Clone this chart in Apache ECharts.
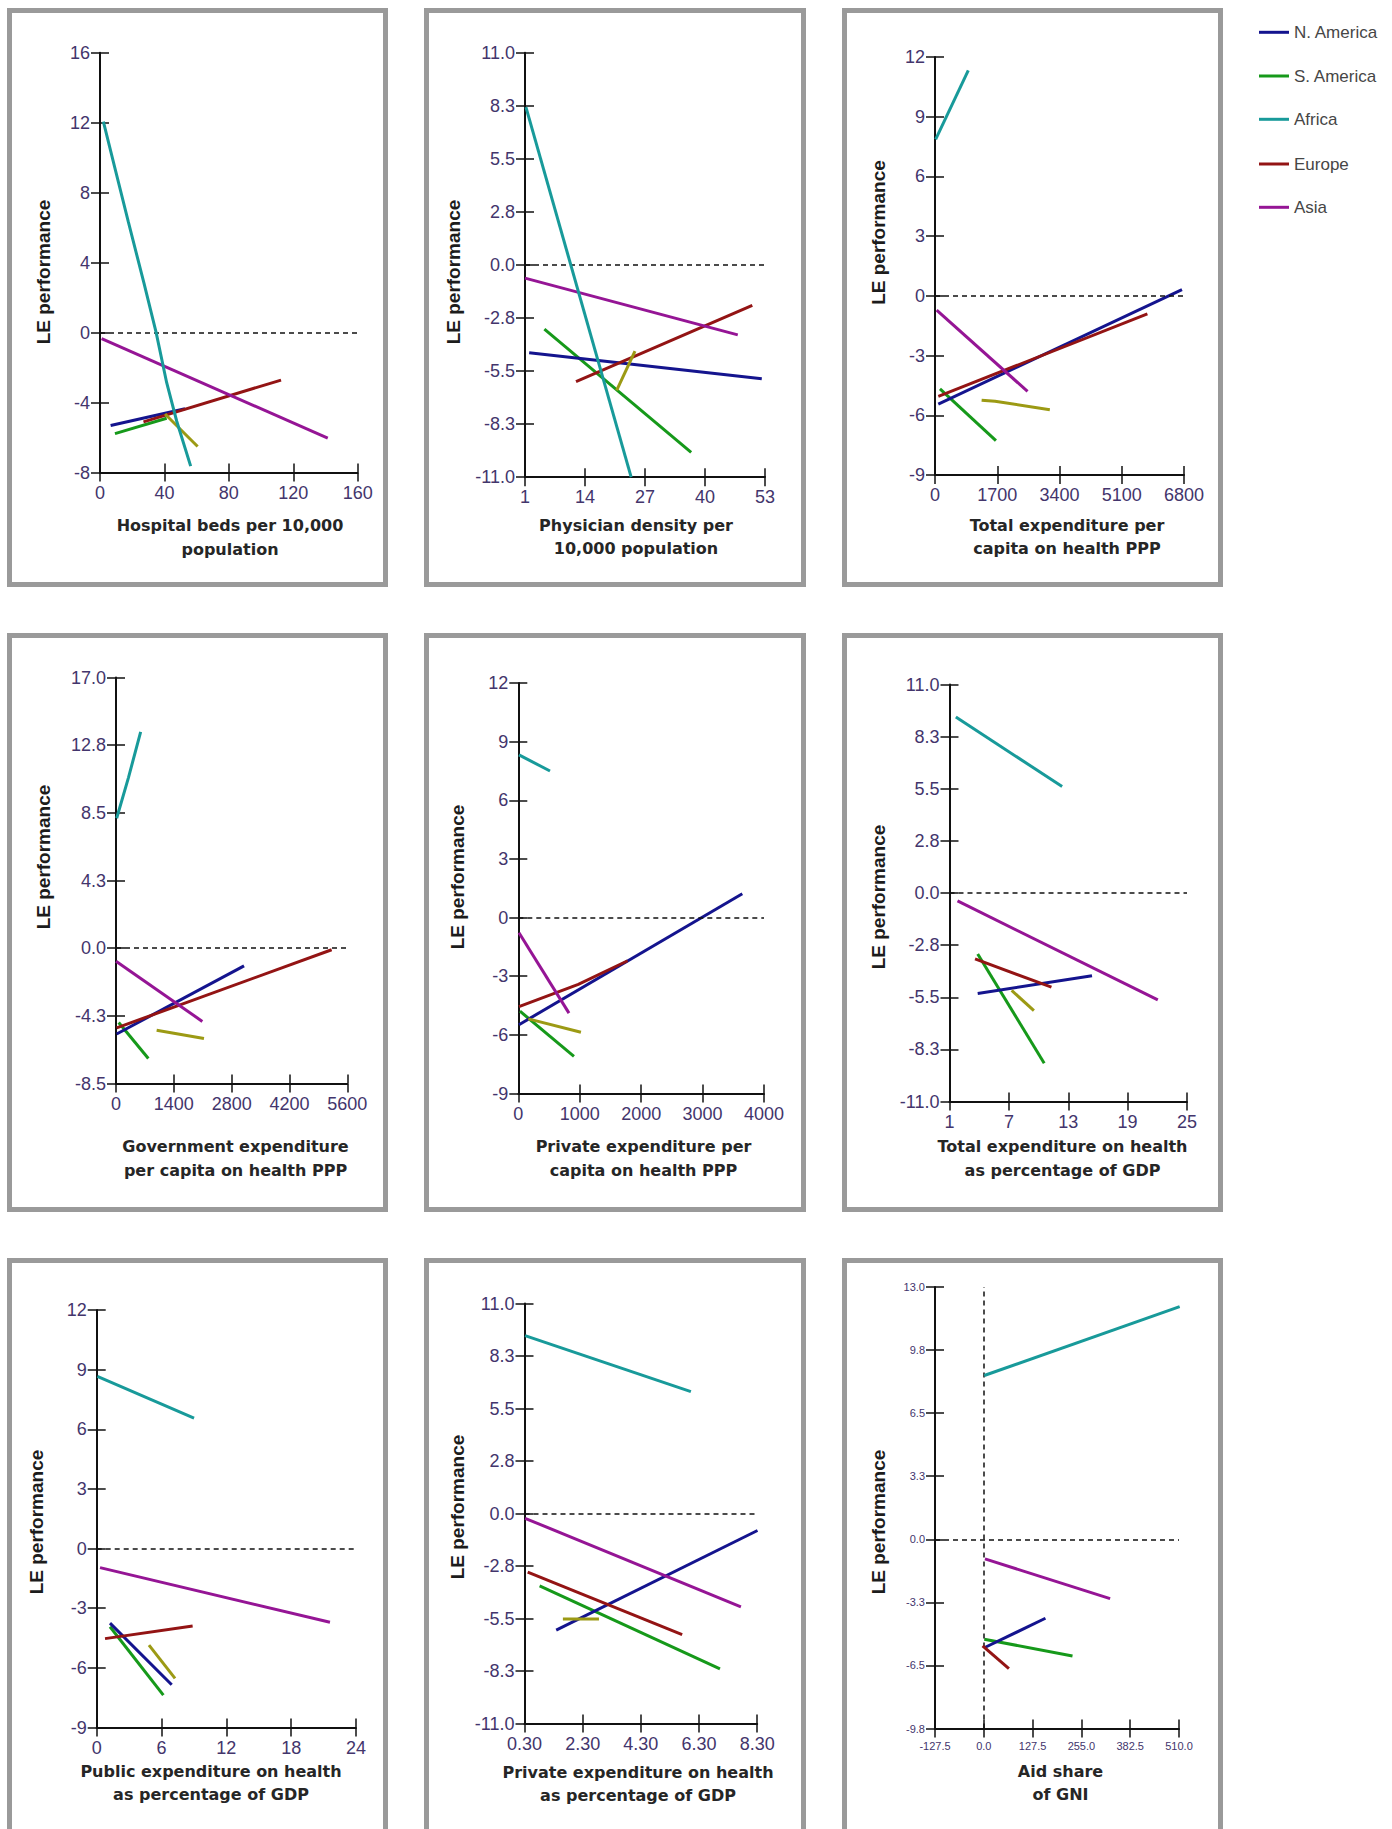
<!DOCTYPE html>
<html>
<head>
<meta charset="utf-8">
<script src="https://cdn.jsdelivr.net/npm/echarts@6/dist/echarts.min.js"></script>
<style>
html,body{margin:0;padding:0;background:#ffffff;}
#chart{width:1392px;height:1829px;}
</style>
</head>
<body>
<div id="chart"></div>
<script>
// ---------------- DATA ----------------
const regions = ['N. America', 'S. America', 'Africa', 'Europe', 'Asia'];
const otherName = 'Other';
const yTitle = 'LE performance';
const xTitles = [
  ['Hospital beds per 10,000', 'population'],
  ['Physician density per', '10,000 population'],
  ['Total expenditure per', 'capita on health PPP'],
  ['Government expenditure', 'per capita on health PPP'],
  ['Private expenditure per', 'capita on health PPP'],
  ['Total expenditure on health', 'as percentage of GDP'],
  ['Public expenditure on health', 'as percentage of GDP'],
  ['Private expenditure on health', 'as percentage of GDP'],
  ['Aid share', 'of GNI']
];
const xTicks = [
  [0, 40, 80, 120, 160],
  [1, 14, 27, 40, 53],
  [0, 1700, 3400, 5100, 6800],
  [0, 1400, 2800, 4200, 5600],
  [0, 1000, 2000, 3000, 4000],
  [1, 7, 13, 19, 25],
  [0, 6, 12, 18, 24],
  [0.3, 2.3, 4.3, 6.3, 8.3],
  [-127.5, 0, 127.5, 255, 382.5, 510]
];
const yTicks = [
  [-8, -4, 0, 4, 8, 12, 16],
  [-11, -8.25, -5.5, -2.75, 0, 2.75, 5.5, 8.25, 11],
  [-9, -6, -3, 0, 3, 6, 9, 12],
  [-8.5, -4.25, 0, 4.25, 8.5, 12.75, 17],
  [-9, -6, -3, 0, 3, 6, 9, 12],
  [-11, -8.25, -5.5, -2.75, 0, 2.75, 5.5, 8.25, 11],
  [-9, -6, -3, 0, 3, 6, 9, 12],
  [-11, -8.25, -5.5, -2.75, 0, 2.75, 5.5, 8.25, 11],
  [-9.75, -6.5, -3.25, 0, 3.25, 6.5, 9.75, 13]
];
const xDecimals = [0, 0, 0, 0, 0, 0, 0, 2, 1];
const yDecimals = [0, 1, 0, 1, 0, 1, 0, 1, 1];
const verticalZeroLine = [false, false, false, false, false, false, false, false, true];

// one segment (list of [x, y] points) per panel
const nAmerica = [
  [[6.6, -5.31], [52.8, -4.35]],
  [[1.9, -4.55], [52.3, -5.90]],
  [[90, -5.44], [6745, 0.31]],
  [[16, -5.39], [3100, -1.11]],
  [[11, -5.48], [3647, 1.22]],
  [[3.85, -5.30], [15.4, -4.37]],
  [[1.23, -3.75], [6.94, -6.85]],
  [[1.39, -6.11], [8.31, -0.89]],
  [[1.2, -5.59], [161, -4.07]]
];
const sAmerica = [
  [[9.3, -5.77], [41.4, -4.89]],
  [[5.2, -3.32], [37.0, -9.71]],
  [[136, -4.67], [1664, -7.27]],
  [[65, -4.67], [783, -6.93]],
  [[27, -4.79], [906, -7.10]],
  [[3.85, -3.22], [10.57, -8.98]],
  [[1.23, -3.93], [6.17, -7.37]],
  [[0.82, -3.79], [7.02, -8.14]],
  [[1.2, -5.15], [231.7, -6.01]]
];
const africa = [
  [[2.1, 12.06], [9.3, 9.39], [17.6, 6.33], [27.3, 2.83], [34.8, 0.03], [41.4, -2.86], [47.6, -5.05], [56.3, -7.63]],
  [[1.2, 8.18], [24.0, -11.0]],
  [[18, 7.86], [909, 11.33]],
  [[16, 8.16], [300, 10.7], [597, 13.58]],
  [[11, 8.32], [516, 7.50]],
  [[1.64, 9.28], [12.38, 5.62]],
  [[0.06, 8.66], [9.01, 6.56]],
  [[0.32, 9.32], [6.02, 6.38]],
  [[1.2, 8.44], [511.7, 11.99]]
];
const europe = [
  [[27, -5.1], [112.4, -2.71]],
  [[12.05, -6.04], [50.25, -2.09]],
  [[91, -5.05], [5800, -0.91]],
  [[16, -5.01], [5221, -0.10]],
  [[11, -4.56], [977, -3.42], [1780, -2.21]],
  [[3.58, -3.48], [11.30, -4.97]],
  [[0.77, -4.53], [8.88, -3.89]],
  [[0.41, -3.07], [5.72, -6.34]],
  [[-3.1, -5.49], [65.6, -6.67]]
];
const asia = [
  [[1.0, -0.34], [141.4, -6.03]],
  [[1.0, -0.68], [47.1, -3.62]],
  [[45, -0.72], [2527, -4.80]],
  [[0, -0.82], [2090, -4.60]],
  [[11, -0.78], [825, -4.89]],
  [[1.81, -0.42], [22.05, -5.64]],
  [[0.31, -0.96], [21.59, -3.71]],
  [[0.32, -0.25], [7.74, -4.89]],
  [[2.96, -1.01], [330, -3.06]]
];
const other = [
  [[40.4, -4.65], [60.6, -6.51]],
  [[20.86, -6.50], [24.83, -4.47]],
  [[1273, -5.24], [1640, -5.30], [3136, -5.72]],
  [[984, -5.15], [2130, -5.68]],
  [[163, -5.18], [1020, -5.87]],
  [[7.28, -5.14], [9.53, -6.21]],
  [[4.84, -4.86], [7.25, -6.53]],
  [[1.62, -5.53], [2.86, -5.53]],
  null
];

// ---------------- LAYOUT / STYLE ----------------
const gridBoxes = [ // [left, top, right, bottom]
  [100, 52.8, 357.7, 472.6],
  [525, 52.8, 765, 477.2],
  [935, 57, 1184, 475],
  [116, 677.5, 347.3, 1083.5],
  [518.3, 683, 764, 1093.5],
  [949.5, 684.5, 1187, 1101.5],
  [96.7, 1310, 356, 1727.5],
  [524.5, 1303.5, 757.2, 1723.5],
  [935, 1287, 1179, 1728.5]
];
const frameCols = [[7, 388], [424, 806], [842, 1223]];
const frameRows = [[8, 587], [633, 1212], [1258, 1845]];
const yTitlePos = [[43, 272], [453, 272], [878, 232.5], [43, 857], [457.5, 877], [878, 897], [36, 1522], [457.5, 1507], [878, 1522]];
const xTitlePos = [[230, 525, 549], [636, 525, 548.5], [1067, 525, 548.5], [235.5, 1146, 1170], [643.5, 1146, 1170], [1062.5, 1146, 1170], [211, 1771, 1794], [638, 1772, 1795], [1060.5, 1771, 1794]];
const labelSize = [18, 18, 18, 18, 18, 18, 18, 18, 11];
const xLabelMargin = [11, 11, 11, 11, 11, 11, 11, 11, 12];
const colors = {
  'N. America': '#14148e',
  'S. America': '#16991a',
  'Africa': '#189a9a',
  'Europe': '#931414',
  'Asia': '#951595',
  'Other': '#9c9a14'
};
const drawOrder = [['S. America', sAmerica], ['N. America', nAmerica], ['Europe', europe], ['Asia', asia], [otherName, other], ['Africa', africa]];
const legendCenters = [32.3, 76, 119.3, 164, 207.3];
const labelColor = '#43356c';
const axisColor = '#111111';

// ---------------- BUILD ----------------
function r6(v) { return Math.round(v * 1e6) / 1e6; }

const grids = [], xAxes = [], yAxes = [], series = [], graphics = [];

for (let p = 0; p < 9; p++) {
  const b = gridBoxes[p];
  grids.push({ left: b[0], top: b[1], width: b[2] - b[0], height: b[3] - b[1], containLabel: false, outerBoundsMode: 'none' });

  const tx = xTicks[p];
  const xInt = r6(tx[1] - tx[0]);
  const xMin0 = tx[0], xMax0 = tx[tx.length - 1];
  const ratio = xMin0 / xInt;
  const xOff = Math.abs(ratio - Math.round(ratio)) > 1e-9 ? xMin0 : 0;
  const xMin = r6(xMin0 - xOff), xMax = r6(xMax0 - xOff);
  const xDec = xDecimals[p];

  const ty = yTicks[p];
  const yInt = r6(ty[1] - ty[0]);
  const yMin = ty[0], yMax = ty[ty.length - 1];
  const yDec = yDecimals[p];
  const fs = labelSize[p];

  const commonLabel = { color: labelColor, fontSize: fs, fontFamily: '"Liberation Sans", Arial, sans-serif', showMinLabel: true, showMaxLabel: true, hideOverlap: false };

  xAxes.push({
    type: 'value', gridIndex: p, position: 'bottom', min: xMin, max: xMax, interval: xInt,
    axisLine: { show: true, onZero: false, lineStyle: { color: axisColor, width: 2 } },
    axisTick: { show: true, inside: false, length: 9, lineStyle: { color: axisColor, width: 1.5 } },
    axisLabel: Object.assign({ margin: xLabelMargin[p], formatter: v => (v + xOff).toFixed(xDec) }, commonLabel),
    splitLine: { show: false }
  });
  xAxes.push({
    type: 'value', gridIndex: p, position: 'bottom', min: xMin, max: xMax, interval: xInt,
    axisLine: { show: false, onZero: false },
    axisTick: { show: true, inside: true, length: 9, lineStyle: { color: axisColor, width: 1.5 } },
    axisLabel: { show: false },
    splitLine: { show: false }
  });
  yAxes.push({
    type: 'value', gridIndex: p, position: 'left', min: yMin, max: yMax, interval: yInt,
    axisLine: { show: true, onZero: false, lineStyle: { color: axisColor, width: 2 } },
    axisTick: { show: true, inside: false, length: 9, lineStyle: { color: axisColor, width: 1.5 } },
    axisLabel: Object.assign({ margin: 10, formatter: v => v.toFixed(yDec) }, commonLabel),
    splitLine: { show: false }
  });
  yAxes.push({
    type: 'value', gridIndex: p, position: 'left', min: yMin, max: yMax, interval: yInt,
    axisLine: { show: false, onZero: false },
    axisTick: { show: true, inside: true, length: 9, lineStyle: { color: axisColor, width: 1.5 } },
    axisLabel: { show: false },
    splitLine: { show: false }
  });

  const mlData = [{ yAxis: 0 }];
  if (verticalZeroLine[p]) mlData.push({ xAxis: 0 - xOff });

  drawOrder.forEach(([name, arr], k) => {
    const seg = arr[p];
    if (!seg) return;
    const s = {
      type: 'line', name: name, xAxisIndex: 2 * p, yAxisIndex: 2 * p,
      data: seg.map(pt => [r6(pt[0] - xOff), pt[1]]),
      symbol: 'none', showSymbol: false, smooth: false, silent: true, animation: false,
      color: colors[name],
      lineStyle: { color: colors[name], width: 3 },
      itemStyle: { color: colors[name] },
      emphasis: { disabled: true },
      z: 3 + k
    };
    if (k === 0) {
      s.markLine = {
        silent: true, symbol: ['none', 'none'], animation: false,
        label: { show: false },
        lineStyle: { color: axisColor, type: [5, 4], width: 1.5 },
        emphasis: { disabled: true },
        data: mlData
      };
    }
    series.push(s);
  });

  // frame
  const col = frameCols[p % 3], row = frameRows[Math.floor(p / 3)];
  graphics.push({
    type: 'rect', silent: true, z: -1,
    shape: { x: col[0] + 2.5, y: row[0] + 2.5, width: col[1] - col[0] - 5, height: row[1] - row[0] - 5 },
    style: { fill: 'none', stroke: '#9a9a9a', lineWidth: 5 }
  });
  // y title
  graphics.push({
    type: 'text', x: yTitlePos[p][0], y: yTitlePos[p][1], rotation: Math.PI / 2, silent: true,
    style: { text: yTitle, font: 'bold 19px "Liberation Sans", Arial, sans-serif', fill: '#1c1c1c',
      align: 'center', verticalAlign: 'middle', textAlign: 'center', textVerticalAlign: 'middle' }
  });
  // x title lines
  for (let i = 0; i < 2; i++) {
    graphics.push({
      type: 'text', x: xTitlePos[p][0], y: xTitlePos[p][1 + i], silent: true,
      style: { text: xTitles[p][i], font: 'bold 16px "DejaVu Sans", Verdana, sans-serif', fill: '#262626',
        align: 'center', verticalAlign: 'middle', textAlign: 'center', textVerticalAlign: 'middle' }
    });
  }
}

const legends = regions.map((name, i) => ({
  data: [name], orient: 'vertical', left: 1254, top: legendCenters[i] - 15,
  icon: 'rect', itemWidth: 30, itemHeight: 3, selectedMode: false, padding: 5,
  textStyle: { color: '#464646', fontSize: 17, fontFamily: '"Liberation Sans", Arial, sans-serif', lineHeight: 20 }
}));

const chart = echarts.init(document.getElementById('chart'), null, { renderer: 'svg', width: 1392, height: 1829 });
chart.setOption({
  backgroundColor: '#ffffff',
  animation: false,
  grid: grids,
  xAxis: xAxes,
  yAxis: yAxes,
  legend: legends,
  series: series,
  graphic: { elements: graphics }
});
</script>
</body>
</html>
